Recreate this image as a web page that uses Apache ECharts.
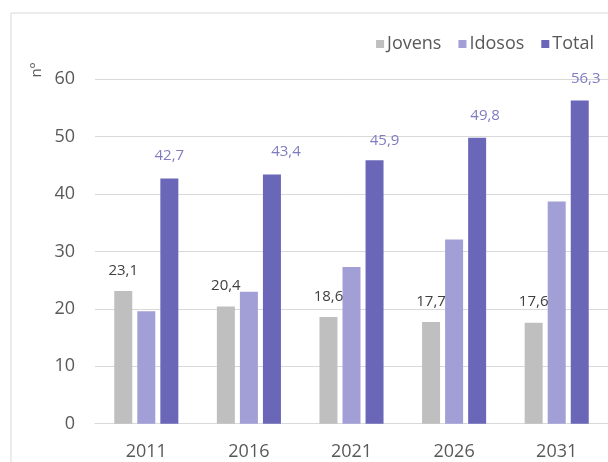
<!DOCTYPE html>
<html>
<head>
<meta charset="utf-8">
<script src="https://cdn.jsdelivr.net/npm/echarts@6/dist/echarts.min.js"></script>
<style>
html,body{margin:0;padding:0;background:#fff;}
#c{width:608px;height:462px;}
</style>
</head>
<body>
<div id="c"></div>
<script>
var categories = ['2011', '2016', '2021', '2026', '2031'];
var jovens = [23.1, 20.4, 18.6, 17.7, 17.6];
var idosos = [19.6, 23.0, 27.3, 32.1, 38.7];
var total = [42.7, 43.4, 45.9, 49.8, 56.3];
var yTicks = [0, 10, 20, 30, 40, 50, 60];

var FONT = '"Open Sans", sans-serif';
var fmt = function (p) { return p.value.toFixed(1).replace('.', ','); };
var totalOffsets = [[0, 0], [14, 0], [10, 3], [8, 0], [6, 1]];

var chart = echarts.init(document.getElementById('c'), null, {renderer: 'canvas'});
chart.setOption({
  animation: false,
  backgroundColor: '#ffffff',
  textStyle: {fontFamily: FONT},
  graphic: [
    {type: 'rect', shape: {x: 11, y: 13, width: 700, height: 600},
     style: {fill: 'none', stroke: '#d9d9d9', lineWidth: 1}, silent: true},
    {type: 'text', x: 37, y: 70, rotation: Math.PI / 2,
     style: {text: 'nº', font: '15px "Open Sans", sans-serif', fill: '#595959',
             align: 'center', verticalAlign: 'middle'}}
  ],
  legend: {
    right: 9, top: 30,
    itemWidth: 8, itemHeight: 8, itemGap: 17,
    icon: 'rect',
    textStyle: {fontFamily: FONT, fontSize: 18, color: '#595959', padding: [0, 0, 0, -2]},
    data: ['Jovens', 'Idosos', 'Total']
  },
  grid: {left: 95, right: 0, top: 79.3, bottom: 38.3, containLabel: false},
  xAxis: {
    type: 'category',
    data: categories,
    axisLine: {show: true, lineStyle: {color: '#d9d9d9', width: 1}},
    axisTick: {show: false},
    axisLabel: {fontFamily: FONT, fontSize: 18, color: '#595959', margin: 19}
  },
  yAxis: {
    type: 'value',
    min: yTicks[0], max: yTicks[yTicks.length - 1], interval: 10,
    axisLine: {show: false},
    axisTick: {show: false},
    splitLine: {lineStyle: {color: '#d9d9d9', width: 1}},
    axisLabel: {fontFamily: FONT, fontSize: 18, color: '#595959', margin: 20}
  },
  series: [
    {
      name: 'Jovens', type: 'bar', data: jovens,
      barWidth: 18, barGap: '28%',
      itemStyle: {color: '#bfbfbf'},
      label: {show: true, position: 'top', distance: 13, formatter: fmt,
              fontFamily: FONT, fontSize: 15, color: '#404040'}
    },
    {
      name: 'Idosos', type: 'bar', data: idosos,
      barWidth: 18, barGap: '28%',
      itemStyle: {color: '#a29fd6'}
    },
    {
      name: 'Total', type: 'bar',
      data: total.map(function (v, i) {
        return {value: v, label: {offset: totalOffsets[i]}};
      }),
      barWidth: 18, barGap: '28%',
      itemStyle: {color: '#6b67b8'},
      label: {show: true, position: 'top', distance: 15, formatter: fmt,
              fontFamily: FONT, fontSize: 15, color: '#7f7cc0'}
    }
  ]
});
</script>
</body>
</html>
